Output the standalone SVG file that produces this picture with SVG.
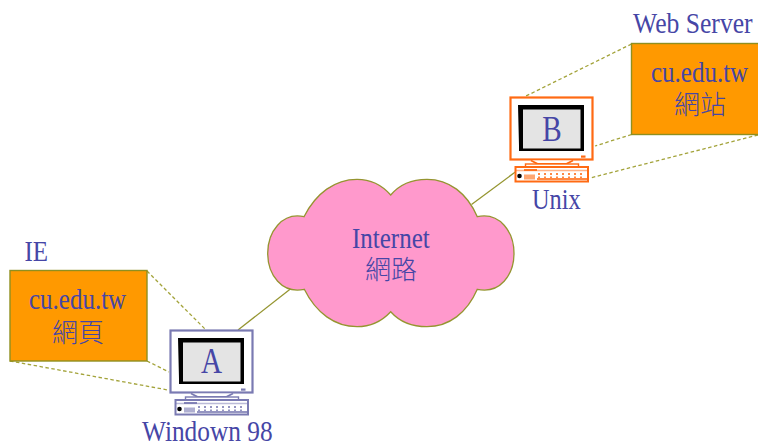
<svg xmlns="http://www.w3.org/2000/svg" xmlns:xlink="http://www.w3.org/1999/xlink" width="758" height="442" viewBox="0 0 758 442">
<style>
text{font-family:"Liberation Serif","Noto Sans CJK TC",serif;font-size:30px;fill:#4646a6}
.big{font-size:35px;text-anchor:middle}
.cjk{font-family:"Noto Sans CJK TC","Liberation Serif",serif;font-size:26px;font-weight:300;text-anchor:middle}
.solid{fill:none;stroke:#959530;stroke-width:1.3}
.dash{fill:none;stroke:#a3a33a;stroke-width:1.3;stroke-dasharray:3.500 2.500}
.box{fill:#ff9900;stroke:#8f8f20;stroke-width:1.4}
</style>
<defs>
<g id="pc">
<rect x="0.5" y="0.5" width="82" height="62" fill="#fff" stroke="currentColor" stroke-width="2.2"/>
<path d="M8 8H74V54H9V49Z" fill="#000"/>
<rect x="13" y="12.500" width="57.500" height="39" fill="#e4e4e4"/>
<rect x="71" y="58.500" width="4.500" height="2.200" fill="currentColor"/>
<path d="M21 63.500L28 67H56L63 63.500" fill="#fff" stroke="currentColor" stroke-width="1.8"/>
<rect x="15.500" y="67" width="53" height="3" fill="#fff" stroke="currentColor" stroke-width="1.400"/>
<rect x="5.500" y="70" width="72.500" height="14.500" fill="#fff" stroke="currentColor" stroke-width="2"/>
<path d="M6 73.500H77" stroke="currentColor" stroke-width="1.400" opacity=".5"/>
<path d="M14 73H27" stroke="currentColor" stroke-width="1.800"/>
<circle cx="9.500" cy="79" r="2.300" fill="#000"/>
<rect x="14" y="77.500" width="11" height="5" fill="currentColor" opacity=".6"/>
<path d="M27 82H77" stroke="currentColor" stroke-width="2" opacity=".8"/>
<path d="M29 76V81M35 76V81M41 76V81M47 76V81M53 76V81M59 76V81M65 76V81M71 76V81" stroke="currentColor" stroke-width="1.600" stroke-dasharray="2 1.500"/>
</g>
</defs>
<g id="connectors">
<path class="solid" d="M291 288.500L238 330"/>
<path class="solid" d="M471.500 204.500L516 171.500"/>
<path class="dash" d="M147 271L206 330"/>
<path class="dash" d="M147 361L169 372"/>
<path class="dash" d="M10 361L168 390"/>
<path class="dash" d="M631.500 44L526 96"/>
<path class="dash" d="M631.500 134.500L595 146"/>
<path class="dash" d="M758 135L590 178"/>
</g>
<g id="internet">
<path d="M304 216.700C316 193 335 179.300 357 179.300C370 179.300 382 185 390.700 195C399 185 412 179.300 427 179.300C449 179.300 467 193 477.300 216.700C500 212 514 232 514 253.300C514 275 500 294 477.300 289.300C467 313 449 326.700 427 326.700C412 326.700 399 321 390.700 311.700C382 321 370 326.700 357 326.700C335 326.700 316 313 304.300 289.300C282 294 267.700 275 267.700 253.300C267.700 232 282 212 304 216.700Z" fill="#ff99cc" stroke="#959530" stroke-width="1.3"/>
<text transform="translate(352 248) scale(.8333 1)">Internet</text>
<text class="cjk" x="391" y="279">網路</text>
</g>
<g id="ie">
<text transform="translate(24.500 260.500) scale(.8333 1)">IE</text>
<rect class="box" x="10" y="270.500" width="137" height="90.500"/>
<text transform="translate(29 308.500) scale(.8333 1)">cu.edu.tw</text>
<text class="cjk" x="78" y="342">網頁</text>
</g>
<g id="web-server">
<text transform="translate(633 33) scale(.855 1)">Web Server</text>
<rect class="box" x="631.500" y="43.500" width="128" height="91"/>
<text transform="translate(651 82) scale(.8333 1)">cu.edu.tw</text>
<text class="cjk" x="700" y="114">網站</text>
</g>
<g id="computer-a" color="#7a7ab2">
<use xlink:href="#pc" href="#pc" transform="translate(170 330)"/>
<text class="big" transform="translate(211.500 373) scale(.8333 1)">A</text>
<text transform="translate(142 441) scale(.845 1)">Windown 98</text>
</g>
<g id="computer-b" color="#ff6a13">
<use xlink:href="#pc" href="#pc" transform="translate(510 97)"/>
<text class="big" transform="translate(552 141) scale(.8333 1)">B</text>
<text transform="translate(532 209) scale(.81 1)">Unix</text>
</g>
</svg>
